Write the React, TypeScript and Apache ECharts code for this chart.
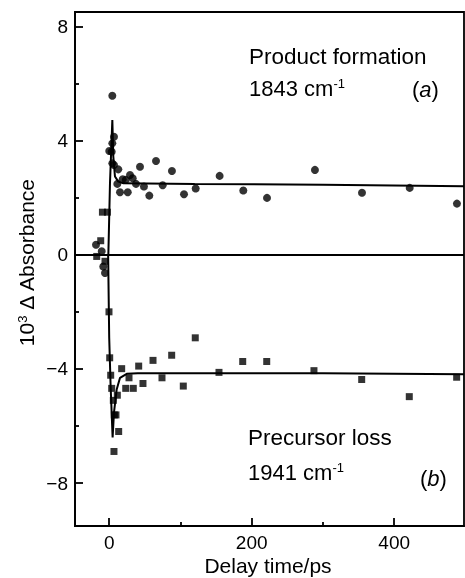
import React, { useEffect, useRef } from "react";
import * as echarts from "echarts";

// Product formation (circles), 1843 cm-1
const productTime = [-18.5, -10.5, -8.3, -5.9, 0.1, 3.5, 4.4, 4.4, 4.4, 6.7, 6.7, 11.4, 12.8, 15.2, 18.9, 23.2, 26, 29.2, 33, 37.6, 43.2, 48.8, 56.3, 65.7, 75.1, 88.1, 105, 121.4, 155, 188.2, 221.5, 288.8, 354.8, 421.8, 488.1];
const productValue = [0.35, 0.12, -0.41, -0.64, 3.63, 3.61, 5.57, 3.9, 3.2, 4.13, 3.14, 2.48, 2.99, 2.19, 2.64, 2.62, 2.19, 2.79, 2.68, 2.48, 3.08, 2.39, 2.07, 3.28, 2.43, 2.93, 2.12, 2.32, 2.76, 2.25, 1.99, 2.97, 2.17, 2.34, 1.79];

// Precursor loss (squares), 1941 cm-1
const precursorTime = [-17.5, -11.9, -9.5, -5.9, -2.5, -0.3, 0.7, 2.1, 3.5, 5.8, 6.7, 7.2, 9.5, 11.4, 13.3, 17.5, 23.2, 27.8, 33.8, 41.4, 47.4, 61.5, 74.1, 87.7, 104, 120.8, 154.1, 187.4, 221.1, 287.4, 354.4, 421.2, 487.7];
const precursorValue = [-0.06, 0.49, 1.49, -0.23, 1.49, -2.0, -3.61, -4.22, -4.68, -5.1, -6.89, -5.61, -5.61, -4.92, -6.19, -3.99, -4.68, -4.31, -4.68, -3.9, -4.51, -3.7, -4.31, -3.52, -4.6, -2.91, -4.12, -3.74, -3.74, -4.06, -4.37, -4.97, -4.29];

// Fitted curves
const productFitTime = [-1.2, 1.1, 4.4, 5.8, 8.1, 12.8, 20, 120, 300, 498];
const productFitValue = [0, 2.5, 4.72, 3.43, 2.74, 2.56, 2.5, 2.48, 2.45, 2.4];
const precursorFitTime = [-1.5, 0, 2, 4.8, 6.7, 10.5, 15.2, 24.6, 40, 300, 498];
const precursorFitValue = [0, -2.9, -4.6, -6.4, -5.53, -4.72, -4.31, -4.17, -4.15, -4.15, -4.19];

const xMajorTicks = [0, 200, 400];
const xMinorTicks = [100, 300];
const yMajorTicks = [-8, -4, 0, 4, 8];
const yMinorTicks = [-6, -2, 2, 6];

const FONT = "'Liberation Sans', Arial, Helvetica, sans-serif";

export default function App() {
  const ref = useRef<HTMLDivElement>(null);
  useEffect(() => {
    if (!ref.current) return;
    const chart = echarts.init(ref.current, undefined, { renderer: "svg" });
    const zip = (a: number[], b: number[]) => a.map((v, i) => [v, b[i]]);
    const xBase = { type: "value", min: -48, max: 498, splitLine: { show: false } };
    const yBase = { type: "value", min: -9.5, max: 8.5, splitLine: { show: false } };
    const fmt = (v: number) => (v < 0 ? "\u2212" + Math.abs(v) : String(v));
    const tickStyle = { color: "#000", width: 1.8 };
    chart.setOption({
      animation: false,
      grid: { left: 75, top: 12, right: 1, bottom: 52, show: true, borderColor: "#000", borderWidth: 1.8, backgroundColor: "transparent" },
      xAxis: [
        {
          ...xBase,
          position: "bottom",
          axisLine: { show: true, onZero: false, lineStyle: tickStyle },
          axisTick: { show: true, inside: true, length: 8, customValues: xMajorTicks, lineStyle: tickStyle },
          axisLabel: { show: true, customValues: xMajorTicks, color: "#000", fontSize: 19, fontFamily: FONT, margin: 7 },
        },
        {
          ...xBase,
          position: "bottom",
          axisLine: { show: false, onZero: false },
          axisTick: { show: true, inside: true, length: 4, customValues: xMinorTicks, lineStyle: tickStyle },
          axisLabel: { show: false },
        },
      ],
      yAxis: [
        {
          ...yBase,
          position: "left",
          axisLine: { show: true, onZero: false, lineStyle: tickStyle },
          axisTick: { show: true, inside: true, length: 8, customValues: yMajorTicks, lineStyle: tickStyle },
          axisLabel: { show: true, customValues: yMajorTicks, formatter: fmt, color: "#000", fontSize: 19, fontFamily: FONT, margin: 7 },
        },
        {
          ...yBase,
          position: "left",
          axisLine: { show: false, onZero: false },
          axisTick: { show: true, inside: true, length: 4, customValues: yMinorTicks, lineStyle: tickStyle },
          axisLabel: { show: false },
        },
      ],
      series: [
        {
          type: "line",
          data: zip(productFitTime, productFitValue),
          showSymbol: false,
          lineStyle: { color: "#000", width: 2 },
          z: 3,
          markLine: {
            silent: true,
            symbol: ["none", "none"],
            label: { show: false },
            lineStyle: { color: "#000", width: 2, type: "solid" },
            data: [{ yAxis: 0 }],
          },
        },
        {
          type: "line",
          data: zip(precursorFitTime, precursorFitValue),
          showSymbol: false,
          lineStyle: { color: "#000", width: 2 },
          z: 3,
        },
        {
          type: "scatter",
          data: zip(productTime, productValue),
          symbol: "circle",
          symbolSize: 8,
          itemStyle: { color: "#000" },
          z: 4,
        },
        {
          type: "scatter",
          data: zip(precursorTime, precursorValue),
          symbol: "rect",
          symbolSize: 7,
          itemStyle: { color: "#000" },
          z: 4,
        },
      ],
      graphic: [
        { type: "text", x: 249, y: 56, style: { text: "Product formation", font: `22.5px ${FONT}`, fill: "#000", verticalAlign: "middle" } },
        {
          type: "text", x: 249, y: 88,
          style: {
            text: "1843 cm{sup|-1}", fill: "#000", verticalAlign: "middle", fontSize: 22, fontFamily: FONT,
            rich: { sup: { fontSize: 13, fontFamily: FONT, verticalAlign: "top", fill: "#000" } },
          },
        },
        {
          type: "text", x: 412, y: 89,
          style: { text: "({it|a})", fill: "#000", verticalAlign: "middle", fontSize: 22, fontFamily: FONT, rich: { it: { fontSize: 22, fontStyle: "italic", fontFamily: FONT, fill: "#000" } } },
        },
        { type: "text", x: 248, y: 437, style: { text: "Precursor loss", font: `22.5px ${FONT}`, fill: "#000", verticalAlign: "middle" } },
        {
          type: "text", x: 248, y: 472,
          style: {
            text: "1941 cm{sup|-1}", fill: "#000", verticalAlign: "middle", fontSize: 22, fontFamily: FONT,
            rich: { sup: { fontSize: 13, fontFamily: FONT, verticalAlign: "top", fill: "#000" } },
          },
        },
        {
          type: "text", x: 420, y: 478,
          style: { text: "({it|b})", fill: "#000", verticalAlign: "middle", fontSize: 22, fontFamily: FONT, rich: { it: { fontSize: 22, fontStyle: "italic", fontFamily: FONT, fill: "#000" } } },
        },
        {
          type: "text", x: 26, y: 262, rotation: Math.PI / 2,
          style: {
            text: "10{sup|3} \u0394 Absorbance", fill: "#000", align: "center", verticalAlign: "middle", fontSize: 21, fontFamily: FONT,
            rich: { sup: { fontSize: 13, fontFamily: FONT, verticalAlign: "top", fill: "#000" } },
          },
        },
        { type: "text", x: 268, y: 565, style: { text: "Delay time/ps", font: `21px ${FONT}`, fill: "#000", align: "center", verticalAlign: "middle" } },
      ],
    });
    return () => chart.dispose();
  }, []);
  return <div ref={ref} style={{ position: "fixed", left: 0, top: 0, width: 465, height: 578 }} />;
}
